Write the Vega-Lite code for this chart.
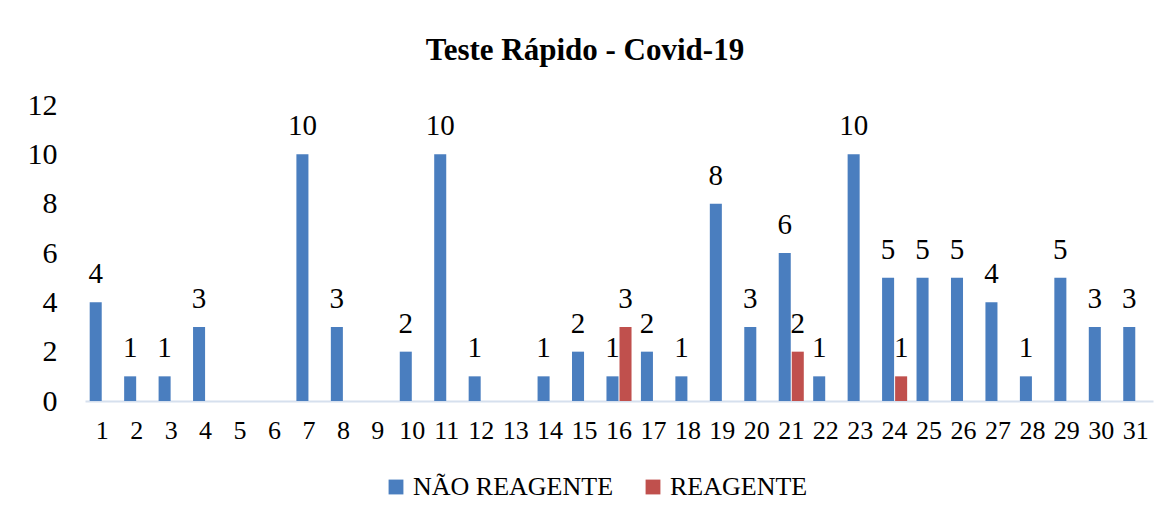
{
  "$schema": "https://vega.github.io/schema/vega-lite/v6.json",
  "width": 1068,
  "height": 296,
  "autosize": {"type": "none"},
  "padding": {"left": 85, "top": 105, "right": 16, "bottom": 117},
  "background": "white",
  "title": {
    "text": "Teste Rápido - Covid-19",
    "font": "Liberation Serif",
    "fontSize": 31,
    "fontWeight": "bold",
    "color": "black",
    "anchor": "middle",
    "dx": -34,
    "offset": 23
  },
  "data": {
    "values": [
      {"dia": 1, "serie": "NÃO REAGENTE", "valor": 4},
      {"dia": 2, "serie": "NÃO REAGENTE", "valor": 1},
      {"dia": 3, "serie": "NÃO REAGENTE", "valor": 1},
      {"dia": 4, "serie": "NÃO REAGENTE", "valor": 3},
      {"dia": 7, "serie": "NÃO REAGENTE", "valor": 10},
      {"dia": 8, "serie": "NÃO REAGENTE", "valor": 3},
      {"dia": 10, "serie": "NÃO REAGENTE", "valor": 2},
      {"dia": 11, "serie": "NÃO REAGENTE", "valor": 10},
      {"dia": 12, "serie": "NÃO REAGENTE", "valor": 1},
      {"dia": 14, "serie": "NÃO REAGENTE", "valor": 1},
      {"dia": 15, "serie": "NÃO REAGENTE", "valor": 2},
      {"dia": 16, "serie": "NÃO REAGENTE", "valor": 1},
      {"dia": 16, "serie": "REAGENTE", "valor": 3},
      {"dia": 17, "serie": "NÃO REAGENTE", "valor": 2},
      {"dia": 18, "serie": "NÃO REAGENTE", "valor": 1},
      {"dia": 19, "serie": "NÃO REAGENTE", "valor": 8},
      {"dia": 20, "serie": "NÃO REAGENTE", "valor": 3},
      {"dia": 21, "serie": "NÃO REAGENTE", "valor": 6},
      {"dia": 21, "serie": "REAGENTE", "valor": 2},
      {"dia": 22, "serie": "NÃO REAGENTE", "valor": 1},
      {"dia": 23, "serie": "NÃO REAGENTE", "valor": 10},
      {"dia": 24, "serie": "NÃO REAGENTE", "valor": 5},
      {"dia": 24, "serie": "REAGENTE", "valor": 1},
      {"dia": 25, "serie": "NÃO REAGENTE", "valor": 5},
      {"dia": 26, "serie": "NÃO REAGENTE", "valor": 5},
      {"dia": 27, "serie": "NÃO REAGENTE", "valor": 4},
      {"dia": 28, "serie": "NÃO REAGENTE", "valor": 1},
      {"dia": 29, "serie": "NÃO REAGENTE", "valor": 5},
      {"dia": 30, "serie": "NÃO REAGENTE", "valor": 3},
      {"dia": 31, "serie": "NÃO REAGENTE", "valor": 3}
    ]
  },
  "encoding": {
    "x": {
      "field": "dia",
      "type": "ordinal",
      "scale": {
        "domain": [1,2,3,4,5,6,7,8,9,10,11,12,13,14,15,16,17,18,19,20,21,22,23,24,25,26,27,28,29,30,31],
        "paddingInner": 0,
        "paddingOuter": 0
      },
      "axis": {
        "title": null,
        "labelAngle": 0,
        "labelFont": "Liberation Serif",
        "labelFontSize": 26,
        "labelColor": "black",
        "labelPadding": 16,
        "ticks": false,
        "domainColor": "#d6e0ee",
        "domainWidth": 2
      }
    },
    "xOffset": {
      "field": "serie",
      "type": "nominal",
      "scale": {
        "domain": ["NÃO REAGENTE", "REAGENTE"],
        "paddingInner": 0.077,
        "paddingOuter": 0.36
      }
    },
    "y": {
      "field": "valor",
      "type": "quantitative",
      "scale": {"domain": [0, 12]},
      "axis": {
        "title": null,
        "values": [0, 2, 4, 6, 8, 10, 12],
        "labelFont": "Liberation Serif",
        "labelFontSize": 30,
        "labelColor": "black",
        "labelPadding": 28,
        "ticks": false,
        "domain": false,
        "grid": false
      }
    }
  },
  "layer": [
    {
      "mark": {"type": "bar"},
      "encoding": {
        "color": {
          "field": "serie",
          "type": "nominal",
          "scale": {
            "domain": ["NÃO REAGENTE", "REAGENTE"],
            "range": ["#4a7ebf", "#c0504d"]
          },
          "legend": {
            "title": null,
            "orient": "none",
            "direction": "horizontal",
            "legendX": 298,
            "legendY": 369,
            "symbolType": "square",
            "symbolSize": 220,
            "symbolStrokeWidth": 0,
            "labelFont": "Liberation Serif",
            "labelFontSize": 26,
            "labelLimit": 400,
            "labelColor": "black",
            "labelOffset": 4,
            "columnPadding": 26
          }
        }
      }
    },
    {
      "mark": {
        "type": "text",
        "font": "Liberation Serif",
        "fontSize": 29,
        "color": "black",
        "baseline": "alphabetic",
        "dy": -19
      },
      "encoding": {
        "text": {"field": "valor", "type": "quantitative"}
      }
    }
  ],
  "config": {
    "view": {"stroke": null}
  }
}
